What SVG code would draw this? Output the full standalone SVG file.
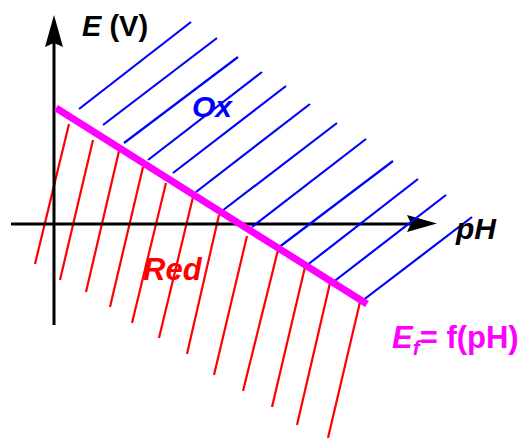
<svg xmlns="http://www.w3.org/2000/svg" width="518" height="439" viewBox="0 0 518 439">
<style>
.red{stroke:#FF0000;stroke-width:2.2;fill:none}
.blue{stroke:#0000FF;stroke-width:2.2;fill:none}
.axis{stroke:#000;stroke-width:3;fill:none}
.lbl{font-family:"Liberation Sans",Arial,sans-serif;font-weight:bold}
</style>
<rect width="518" height="439" fill="#fff"/>
<g id="red-hatch" class="red">
<line x1="69" y1="124" x2="35" y2="264"/>
<line x1="93" y1="140" x2="60" y2="280"/>
<line x1="119" y1="151" x2="86" y2="292"/>
<line x1="143" y1="167" x2="110" y2="307"/>
<line x1="166" y1="183" x2="132" y2="323"/>
<line x1="193" y1="197" x2="159" y2="338"/>
<line x1="219" y1="215" x2="187" y2="354"/>
<line x1="247" y1="236" x2="214" y2="375"/>
<line x1="278" y1="250" x2="243" y2="391"/>
<line x1="305" y1="267" x2="272" y2="407"/>
<line x1="330" y1="283" x2="297" y2="425"/>
<line x1="360" y1="302" x2="328" y2="438"/>
</g>
<g id="axes">
<line class="axis" x1="54" y1="325" x2="54" y2="42"/>
<path d="M54,15 L63,47 L54,43 L45,47 Z" fill="#000"/>
<line class="axis" x1="11" y1="224" x2="412" y2="224"/>
<path d="M437,223.5 L407,215 L411,223.5 L407,232 Z" fill="#000"/>
</g>
<g id="blue-hatch" class="blue">
<line x1="191" y1="22" x2="79" y2="109"/>
<line x1="217" y1="38" x2="103" y2="125"/>
<line x1="238" y1="57" x2="124" y2="143"/>
<line x1="262" y1="72" x2="148" y2="160"/>
<line x1="286" y1="86" x2="173" y2="173"/>
<line x1="310" y1="104" x2="196" y2="192"/>
<line x1="337" y1="123" x2="222" y2="211"/>
<line x1="366" y1="139" x2="252" y2="227"/>
<line x1="393" y1="161" x2="278" y2="248"/>
<line x1="418" y1="179" x2="306" y2="266"/>
<line x1="446" y1="195" x2="332" y2="283"/>
<line x1="472" y1="217" x2="362" y2="301"/>
</g>
<g id="boundary">
<line x1="56" y1="108" x2="367" y2="304" stroke="#FF00FF" stroke-width="7"/>
</g>
<g id="labels" class="lbl">
<text x="82" y="36" font-size="29"><tspan font-style="italic">E</tspan> (V)</text>
<text x="456" y="239" font-size="30" font-style="italic">pH</text>
<text x="192" y="117" font-size="30" font-style="italic" fill="#0000FF">Ox</text>
<text x="143" y="280" font-size="31" font-style="italic" fill="#FF0000">Red</text>
<text x="392" y="348" font-size="31" fill="#FF00FF"><tspan font-style="italic">E</tspan><tspan font-style="italic" font-size="21" dy="7">f</tspan><tspan dy="-7">= f(pH)</tspan></text>
</g>
</svg>
